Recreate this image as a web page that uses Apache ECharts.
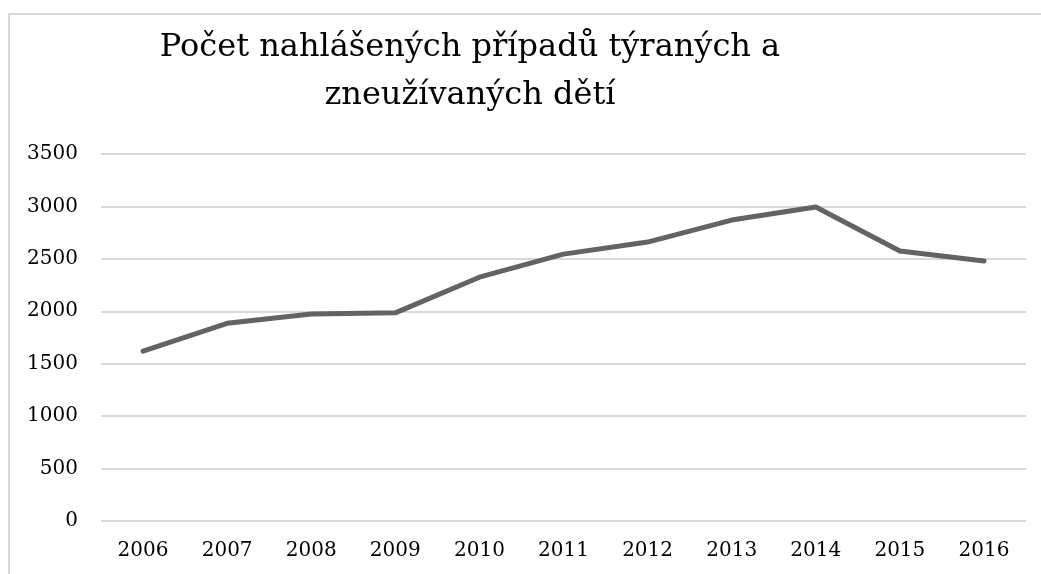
<!DOCTYPE html>
<html>
<head>
<meta charset="utf-8">
<script src="https://cdn.jsdelivr.net/npm/echarts@6/dist/echarts.min.js"></script>
<style>
  html, body { margin: 0; padding: 0; background: #fff; }
  .frame {
    position: absolute;
    left: 8px;
    top: 13px;
    width: 1040px;
    height: 570px;
    border-top: 2px solid #d9d9d9;
    border-left: 2px solid #d9d9d9;
  }
  #chart { position: absolute; left: 0; top: 0; width: 1041px; height: 574px; }
</style>
</head>
<body>
<div class="frame"></div>
<div id="chart"></div>
<script>
const years = ['2006', '2007', '2008', '2009', '2010', '2011', '2012', '2013', '2014', '2015', '2016']
const cases = [1620, 1885, 1975, 1985, 2325, 2545, 2660, 2870, 2995, 2575, 2480]
const titleText = 'Počet nahlášených případů týraných a\nzneužívaných dětí'

const chart = echarts.init(document.getElementById('chart'))
const font = '"DejaVu Serif"'

chart.setOption({
  animation: false,
  title: {
    text: titleText,
    left: 465,
    top: 19,
    textAlign: 'center',
    textStyle: {
      fontFamily: font,
      fontWeight: 'normal',
      fontSize: 32,
      lineHeight: 48,
      color: '#000'
    }
  },
  grid: {
    left: 101,
    right: 15,
    top: 154,
    bottom: 53
  },
  xAxis: {
    type: 'category',
    data: years,
    boundaryGap: true,
    axisLine: { show: false },
    axisTick: { show: false },
    axisLabel: {
      color: '#000',
      fontFamily: font,
      fontSize: 20,
      margin: 20
    }
  },
  yAxis: {
    type: 'value',
    min: 0,
    max: 3500,
    interval: 500,
    axisLine: { show: false },
    axisTick: { show: false },
    splitLine: { lineStyle: { color: '#d9d9d9', width: 2 } },
    axisLabel: {
      color: '#000',
      fontFamily: font,
      fontSize: 20,
      margin: 23,
      formatter: v => String(v)
    }
  },
  series: [{
    type: 'line',
    data: cases,
    symbol: 'none',
    lineStyle: { color: '#636363', width: 5, cap: 'round', join: 'round' }
  }]
})
</script>
</body>
</html>
